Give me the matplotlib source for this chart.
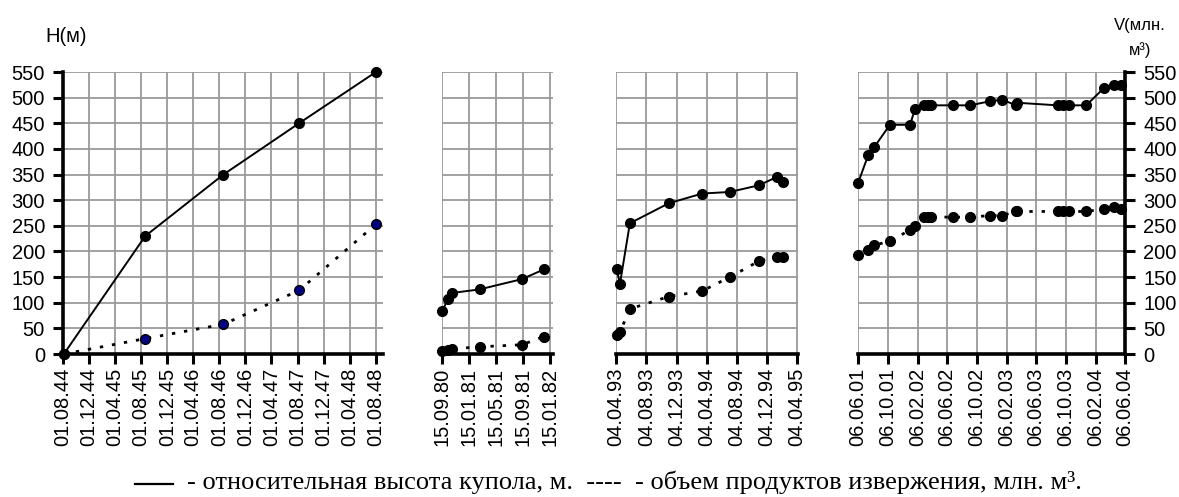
import matplotlib
matplotlib.use("Agg")
import matplotlib.pyplot as plt
from matplotlib.lines import Line2D
import pandas as pd

# ---- data -------------------------------------------------------------
p1_dates = ["05.08.1944", "20.08.1945", "20.08.1946", "08.08.1947", "01.08.1948"]
p1_height = [0, 230, 350, 450, 550]
p1_volume = [0, 30, 58, 124, 253]

p2_dates = ["15.09.1980", "12.10.1980", "30.10.1980", "03.03.1981", "10.09.1981", "18.12.1981"]
p2_height = [83, 107, 119, 126, 146, 165]
p2_volume = [5, 8, 10, 14, 18, 34]

p3_dates = ["07.04.1993", "20.04.1993", "30.05.1993", "03.11.1993", "18.03.1994",
            "07.07.1994", "01.11.1994", "12.01.1995", "07.02.1995"]
p3_height = [165, 137, 255, 294, 313, 316, 329, 345, 336]
p3_volume = [38, 43, 88, 112, 123, 150, 181, 189, 189]

p4_dates = ["06.06.2001", "18.07.2001", "11.08.2001", "15.10.2001", "06.01.2002",
            "25.01.2002", "05.03.2002", "21.03.2002", "02.04.2002", "03.07.2002",
            "09.09.2002", "30.11.2002", "18.01.2003", "18.03.2003", "22.03.2003",
            "03.09.2003", "27.09.2003", "20.10.2003", "30.12.2003", "12.03.2004",
            "22.04.2004", "21.05.2004"]
p4_height = [333, 388, 403, 447, 447, 477, 485, 485, 485, 485, 485, 493, 496,
             485, 490, 485, 485, 485, 485, 519, 524, 524]
p4_volume = [193, 202, 212, 220, 242, 250, 267, 267, 267, 267, 267, 270, 270,
             278, 278, 278, 278, 278, 278, 283, 287, 283]

p1_ticks = ["01.08.1944", "01.12.1944", "01.04.1945", "01.08.1945", "01.12.1945",
            "01.04.1946", "01.08.1946", "01.12.1946", "01.04.1947", "01.08.1947",
            "01.12.1947", "01.04.1948", "01.08.1948"]
p2_ticks = ["15.09.1980", "15.01.1981", "15.05.1981", "15.09.1981", "15.01.1982"]
p3_ticks = ["04.04.1993", "04.08.1993", "04.12.1993", "04.04.1994", "04.08.1994",
            "04.12.1994", "04.04.1995"]
p4_ticks = ["06.06.2001", "06.10.2001", "06.02.2002", "06.06.2002", "06.10.2002",
            "06.02.2003", "06.06.2003", "06.10.2003", "06.02.2004", "06.06.2004"]

y_ticks = list(range(0, 551, 50))

left_label = "H(м)"
right_label = "V(млн.\nм³)"
key_text = "- относительная высота купола, м.  ----  - объем продуктов извержения, млн. м³."


def to_dates(items):
    return pd.to_datetime(items, format="%d.%m.%Y")


# ---- figure -----------------------------------------------------------
W, H = 1179, 497
DPI = 100
fig = plt.figure(figsize=(W / DPI, H / DPI), dpi=DPI)
plt.rcParams["font.family"] = ["Liberation Sans", "DejaVu Sans"]

Y0, Y1 = 354, 72   # pixel rows of value 0 and value 550


def panel(l, r):
    return fig.add_axes([l / W, 1 - Y0 / H, (r - l) / W, (Y0 - Y1) / H])


GRID = "#9a9a9a"
SPINE_W = 2.6
TICK_FS = 14.5

specs = [
    (63, 383, p1_dates, p1_height, p1_volume, p1_ticks, "01.08.1944", "03.09.1948", "left"),
    (442, 553, p2_dates, p2_height, p2_volume, p2_ticks, "15.09.1980", "28.01.1982", None),
    (616, 798, p3_dates, p3_height, p3_volume, p3_ticks, "04.04.1993", "08.04.1995", None),
    (858, 1125, p4_dates, p4_height, p4_volume, p4_ticks, "06.06.2001", "06.06.2004", "right"),
]

for i, (l, r, dts, hv, vv, tks, x0, x1, yside) in enumerate(specs):
    ax = panel(l, r)
    d = to_dates(dts)
    t = to_dates(tks)
    ax.set_xlim(to_dates([x0])[0], to_dates([x1])[0])
    ax.set_ylim(0, 550)

    ax.set_xticks(t)
    ax.set_xticklabels([x.strftime("%d.%m.%y") for x in t], rotation=90,
                       fontsize=TICK_FS, va="top")
    ax.set_yticks(y_ticks)

    ax.grid(True, color=GRID, linewidth=1.3, zorder=0)
    ax.set_axisbelow(True)

    for s in ("top", "left", "right"):
        ax.spines[s].set_visible(False)
    ax.spines["bottom"].set_linewidth(SPINE_W)
    ax.spines["bottom"].set_zorder(5)
    ax.tick_params(axis="x", direction="out", length=7, width=2.2, pad=3)

    if yside == "left":
        ax.spines["left"].set_visible(True)
        ax.spines["left"].set_linewidth(SPINE_W)
        ax.tick_params(axis="y", left=True, right=False, labelleft=True,
                       labelright=False, direction="out", length=7, width=2.2,
                       pad=6, labelsize=TICK_FS)
    elif yside == "right":
        ax.spines["right"].set_visible(True)
        ax.spines["right"].set_linewidth(SPINE_W)
        ax.yaxis.tick_right()
        ax.tick_params(axis="y", left=False, right=True, labelleft=False,
                       labelright=True, direction="out", length=7, width=2.2,
                       pad=6, labelsize=TICK_FS)
    else:
        ax.tick_params(axis="y", left=False, right=False, labelleft=False,
                       labelright=False)

    vol_face = "#000080" if i == 0 else "black"
    ax.plot(d, vv, color="black", linewidth=2.0, linestyle=(0, (1.2, 3.2)),
            marker="o", markersize=7, markerfacecolor=vol_face,
            markeredgecolor="black", markeredgewidth=1.0, clip_on=False, zorder=3)
    ax.plot(d, hv, color="black", linewidth=1.4, linestyle="-",
            marker="o", markersize=7, markerfacecolor="black",
            markeredgecolor="black", clip_on=False, zorder=4)

# axis titles
fig.text(66 / W, 1 - 36 / H, left_label, ha="center", va="center", fontsize=14.5)
fig.text(1140 / W, 1 - 38 / H, right_label, ha="center", va="center",
         fontsize=12, linespacing=1.75)

# key line under the panels
fig.add_artist(Line2D([135 / W, 173 / W], [1 - 484 / H, 1 - 484 / H],
                      transform=fig.transFigure, color="black", linewidth=1.6))
fig.text(187 / W, 1 - 489 / H, key_text, ha="left", va="baseline",
         fontsize=19, family=["Liberation Serif", "DejaVu Serif"])

fig.savefig("out.png", dpi=DPI)
